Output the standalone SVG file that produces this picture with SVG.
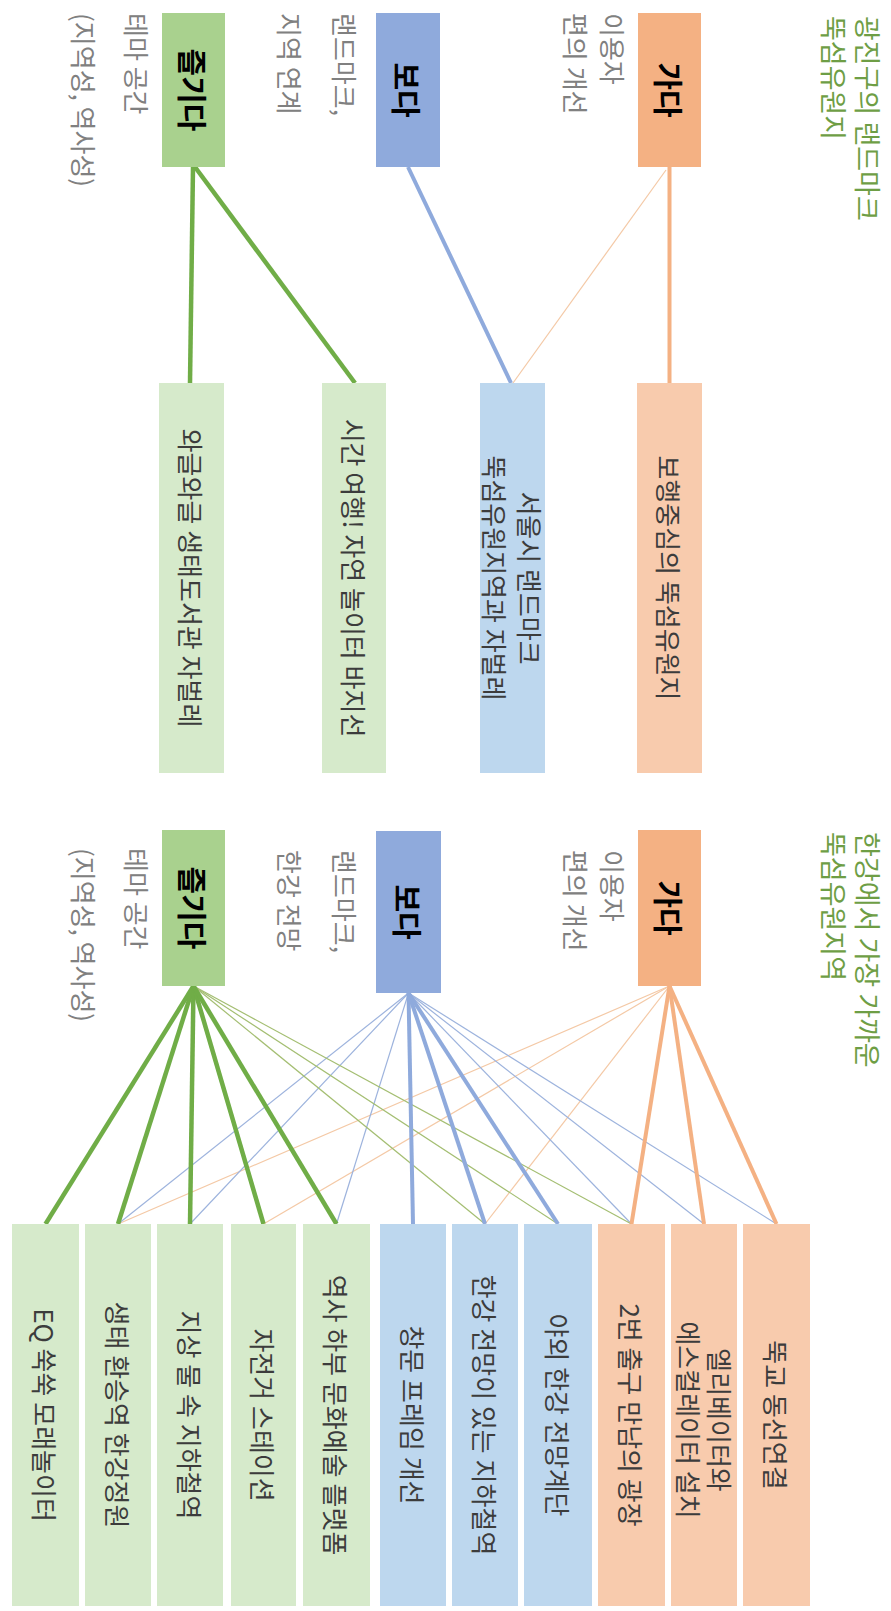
<svg xmlns="http://www.w3.org/2000/svg" width="891" height="1611" viewBox="0 0 891 1611">
<style>
text{font-family:"Noto Sans CJK KR","Noto Sans",sans-serif;font-size:26px;dominant-baseline:central}
.hd{font-weight:bold;font-size:30px;fill:#000;text-anchor:middle}
.bx{fill:#3c3c3c;text-anchor:middle}
.lb{fill:#808080;text-anchor:start}
.tt{fill:#6e9e45;text-anchor:start;font-size:27px}
.o1{fill:#F4B183}.o2{fill:#F8CBAD}
.b1{fill:#8FAADC}.b2{fill:#BDD7EE}
.g1{fill:#A9D18E}.g2{fill:#D6EACB}
.to{stroke:#F4B183;stroke-width:4;fill:none}
.tb{stroke:#8FAADC;stroke-width:4;fill:none}
.tg{stroke:#70AD47;stroke-width:4.5;fill:none}
.no{stroke:#F4C9A6;stroke-width:1.2;fill:none}
.nb{stroke:#9DB3DD;stroke-width:1.2;fill:none}
.ng{stroke:#A4BE72;stroke-width:1.2;fill:none}
</style>
<rect width="891" height="1611" fill="#fff"/>
<g id="connectors">
<line class="to" x1="669.5" y1="167" x2="669.5" y2="383"/>
<line class="no" x1="666" y1="170" x2="513" y2="383"/>
<line class="tb" x1="408" y1="167" x2="511" y2="383"/>
<line class="tg" x1="193" y1="167" x2="190" y2="383"/>
<line class="tg" x1="195" y1="167" x2="355" y2="383"/>
<line class="no" x1="669.5" y1="986" x2="118" y2="1224"/>
<line class="no" x1="669.5" y1="986" x2="263.5" y2="1224"/>
<line class="no" x1="669.5" y1="986" x2="485" y2="1224"/>
<line class="nb" x1="408.5" y1="993" x2="118" y2="1224"/>
<line class="nb" x1="408.5" y1="993" x2="190" y2="1224"/>
<line class="nb" x1="408.5" y1="993" x2="336.5" y2="1224"/>
<line class="nb" x1="408.5" y1="993" x2="631.5" y2="1224"/>
<line class="nb" x1="408.5" y1="993" x2="704" y2="1224"/>
<line class="nb" x1="408.5" y1="993" x2="776.5" y2="1224"/>
<line class="ng" x1="193.5" y1="986" x2="485" y2="1224"/>
<line class="ng" x1="193.5" y1="986" x2="558" y2="1224"/>
<line class="ng" x1="193.5" y1="986" x2="631.5" y2="1224"/>
<line class="to" x1="669.5" y1="986" x2="631.5" y2="1224"/>
<line class="to" x1="669.5" y1="986" x2="704" y2="1224"/>
<line class="to" x1="669.5" y1="986" x2="776.5" y2="1224"/>
<line class="tb" x1="408.5" y1="993" x2="413" y2="1224"/>
<line class="tb" x1="408.5" y1="993" x2="485" y2="1224"/>
<line class="tb" x1="408.5" y1="993" x2="558" y2="1224"/>
<line class="tg" x1="193.5" y1="986" x2="45.5" y2="1224"/>
<line class="tg" x1="193.5" y1="986" x2="118" y2="1224"/>
<line class="tg" x1="193.5" y1="986" x2="190" y2="1224"/>
<line class="tg" x1="193.5" y1="986" x2="263.5" y2="1224"/>
<line class="tg" x1="193.5" y1="986" x2="336.5" y2="1224"/>
</g>
<g id="title1">
<text class="tt" transform="translate(868,16) rotate(90)">광진구의 랜드마크</text>
<text class="tt" transform="translate(834,16) rotate(90)">뚝섬유원지</text>
</g>
<g id="ga1">
<rect class="o1" x="638" y="13" width="63" height="154"/>
<text class="hd" transform="translate(669.5,90) rotate(90)">가다</text>
</g>
<g id="ga1-label">
<text class="lb" transform="translate(613,13) rotate(90)">이용자</text>
<text class="lb" transform="translate(576,13) rotate(90)">편의 개선</text>
</g>
<g id="bo1">
<rect class="b1" x="376" y="13" width="64" height="154"/>
<text class="hd" transform="translate(408,90) rotate(90)">보다</text>
</g>
<g id="bo1-label">
<text class="lb" transform="translate(345,13) rotate(90)">랜드마크,</text>
<text class="lb" transform="translate(290,13) rotate(90)">지역 연계</text>
</g>
<g id="jeul1">
<rect class="g1" x="162" y="13" width="63" height="154"/>
<text class="hd" transform="translate(193.5,90) rotate(90)">즐기다</text>
</g>
<g id="jeul1-label">
<text class="lb" transform="translate(137,13) rotate(90)">테마 공간</text>
<text class="lb" transform="translate(84,13) rotate(90)">(지역성, 역사성)</text>
</g>
<g id="s1-walk">
<rect class="o2" x="637" y="383" width="65" height="390"/>
<text class="bx" transform="translate(669.5,578) rotate(90)">보행중심의 뚝섬유원지</text>
</g>
<g id="s1-landmark">
<rect class="b2" x="480" y="383" width="65" height="390"/>
<text class="bx" transform="translate(530,578) rotate(90)">서울시 랜드마크</text>
<text class="bx" transform="translate(495,578) rotate(90)">뚝섬유원지역과 자벌레</text>
</g>
<g id="s1-barge">
<rect class="g2" x="322" y="383" width="64" height="390"/>
<text class="bx" transform="translate(354,578) rotate(90)">시간 여행! 자연 놀이터 바지선</text>
</g>
<g id="s1-library">
<rect class="g2" x="159" y="383" width="65" height="390"/>
<text class="bx" transform="translate(191.5,578) rotate(90)">와글와글 생태도서관 자벌레</text>
</g>
<g id="title2">
<text class="tt" transform="translate(868,832) rotate(90)">한강에서 가장 가까운</text>
<text class="tt" transform="translate(834,832) rotate(90)">뚝섬유원지역</text>
</g>
<g id="ga2">
<rect class="o1" x="638" y="830" width="63" height="156"/>
<text class="hd" transform="translate(669.5,908) rotate(90)">가다</text>
</g>
<g id="ga2-label">
<text class="lb" transform="translate(613,850) rotate(90)">이용자</text>
<text class="lb" transform="translate(576,850) rotate(90)">편의 개선</text>
</g>
<g id="bo2">
<rect class="b1" x="376" y="831" width="65" height="162"/>
<text class="hd" transform="translate(408.5,912) rotate(90)">보다</text>
</g>
<g id="bo2-label">
<text class="lb" transform="translate(345,850) rotate(90)">랜드마크,</text>
<text class="lb" transform="translate(290,850) rotate(90)">한강 전망</text>
</g>
<g id="jeul2">
<rect class="g1" x="162" y="830" width="63" height="156"/>
<text class="hd" transform="translate(193.5,908) rotate(90)">즐기다</text>
</g>
<g id="jeul2-label">
<text class="lb" transform="translate(137,848) rotate(90)">테마 공간</text>
<text class="lb" transform="translate(84,848) rotate(90)">(지역성, 역사성)</text>
</g>
<g id="b01"><rect class="g2" x="12" y="1224" width="67" height="382"/><text class="bx" transform="translate(45.5,1415) rotate(90)">EQ 쑥쑥 모래놀이터</text></g>
<g id="b02"><rect class="g2" x="85" y="1224" width="66" height="382"/><text class="bx" transform="translate(118,1415) rotate(90)">생태 환승역 한강정원</text></g>
<g id="b03"><rect class="g2" x="157" y="1224" width="66" height="382"/><text class="bx" transform="translate(190,1415) rotate(90)">지상 물 속 지하철역</text></g>
<g id="b04"><rect class="g2" x="231" y="1224" width="65" height="382"/><text class="bx" transform="translate(263.5,1415) rotate(90)">자전거 스테이션</text></g>
<g id="b05"><rect class="g2" x="303" y="1224" width="67" height="382"/><text class="bx" transform="translate(336.5,1415) rotate(90)">역사 하부 문화예술 플랫폼</text></g>
<g id="b06"><rect class="b2" x="380" y="1224" width="66" height="382"/><text class="bx" transform="translate(413,1415) rotate(90)">창문 프레임 개선</text></g>
<g id="b07"><rect class="b2" x="452" y="1224" width="66" height="382"/><text class="bx" transform="translate(485,1415) rotate(90)">한강 전망이 있는 지하철역</text></g>
<g id="b08"><rect class="b2" x="524" y="1224" width="68" height="382"/><text class="bx" transform="translate(558,1415) rotate(90)">야외 한강 전망계단</text></g>
<g id="b09"><rect class="o2" x="598" y="1224" width="67" height="382"/><text class="bx" transform="translate(631.5,1415) rotate(90)">2번 출구 만남의 광장</text></g>
<g id="b10"><rect class="o2" x="671" y="1224" width="66" height="382"/><text class="bx" transform="translate(720,1420) rotate(90)">엘리베이터와</text><text class="bx" transform="translate(689,1420) rotate(90)">에스컬레이터 설치</text></g>
<g id="b11"><rect class="o2" x="743" y="1224" width="67" height="382"/><text class="bx" transform="translate(776.5,1415) rotate(90)">뚝교 동선연결</text></g>
</svg>
